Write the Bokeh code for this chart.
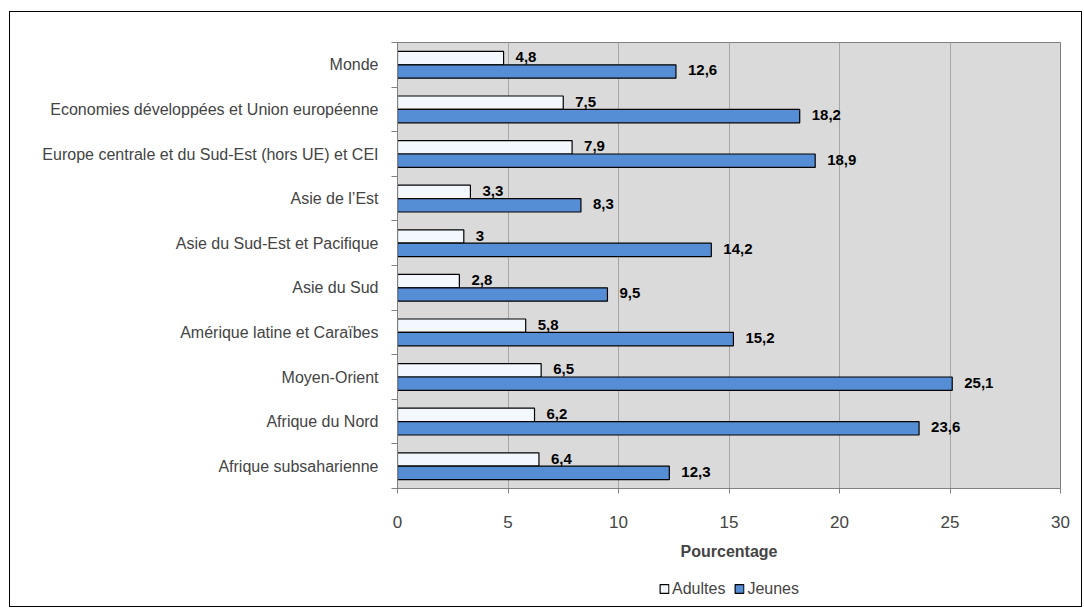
from bokeh.plotting import figure
from bokeh.layouts import column
from bokeh.models import Range1d, FixedTicker, Legend, LegendItem, ColumnDataSource
from bokeh.embed import file_html
from bokeh.resources import INLINE
from bokeh.core.properties import value

categories = [
    "Monde",
    "Economies développées et Union européenne",
    "Europe centrale et du Sud-Est (hors UE) et CEI",
    "Asie de l’Est",
    "Asie du Sud-Est et Pacifique",
    "Asie du Sud",
    "Amérique latine et Caraïbes",
    "Moyen-Orient",
    "Afrique du Nord",
    "Afrique subsaharienne",
]
series = ["Adultes", "Jeunes"]
adultes = [4.8, 7.5, 7.9, 3.3, 3.0, 2.8, 5.8, 6.5, 6.2, 6.4]
jeunes = [12.6, 18.2, 18.9, 8.3, 14.2, 9.5, 15.2, 25.1, 23.6, 12.3]
x_ticks = [0, 5, 10, 15, 20, 25, 30]

FONT = "Liberation Sans"
C_AD = "#F2F8FD"
C_JE = "#558ED5"

def fmt(v):
    s = ("%.1f" % v).rstrip("0").rstrip(".")
    return s.replace(".", ",")

n = len(categories)
centers = [n - 0.5 - i for i in range(n)]
bounds = [float(i) for i in range(n + 1)]

src_a = ColumnDataSource(dict(y=[c + 0.15 for c in centers], x=adultes,
                              lbl=[fmt(v) for v in adultes]))
src_j = ColumnDataSource(dict(y=[c - 0.15 for c in centers], x=jeunes,
                              lbl=[fmt(v) for v in jeunes]))

p = figure(width=1071, height=559, frame_width=663, frame_height=446,
           output_backend="svg", toolbar_location=None,
           x_range=Range1d(0, 30), y_range=Range1d(0, n),
           min_border_left=387, min_border_right=21, min_border_top=30, min_border_bottom=83)
p.background_fill_color = "#DADADA"
p.border_fill_color = "white"
p.outline_line_color = "#808080"

ra = p.hbar(y="y", right="x", left=0, height=0.3, source=src_a,
            fill_color=C_AD, line_color="black", line_width=1.2)
rj = p.hbar(y="y", right="x", left=0, height=0.3, source=src_j,
            fill_color=C_JE, line_color="black", line_width=1.2)

for src in (src_a, src_j):
    p.text(x="x", y="y", text="lbl", source=src, x_offset=12, y_offset=-1,
           text_baseline="middle", text_align="left",
           text_font=value(FONT), text_font_style="bold", text_font_size="15px",
           text_color="black")

# x axis
p.xaxis.ticker = FixedTicker(ticks=x_ticks)
p.xaxis.axis_label = "Pourcentage"
p.xaxis.axis_label_text_font = FONT
p.xaxis.axis_label_text_font_style = "bold"
p.xaxis.axis_label_text_font_size = "16px"
p.xaxis.axis_label_standoff = 12
p.xaxis.major_label_text_font = FONT
p.xaxis.major_label_text_font_size = "17px"
p.xaxis.major_label_standoff = 22
p.xaxis.axis_line_color = "#808080"
p.xaxis.major_tick_line_color = "#808080"
p.xaxis.major_tick_out = 5
p.xaxis.major_tick_in = 0
p.xaxis.minor_tick_line_color = None

# y axis
p.yaxis.ticker = FixedTicker(ticks=centers, minor_ticks=bounds)
p.yaxis.major_label_overrides = {c: cat for c, cat in zip(centers, categories)}
p.yaxis.major_label_text_font = FONT
p.yaxis.major_label_text_font_size = "16px"
p.yaxis.major_label_standoff = 13
p.yaxis.major_tick_line_color = None
p.yaxis.minor_tick_out = 6
p.yaxis.minor_tick_in = 0
p.yaxis.minor_tick_line_color = "#808080"
p.yaxis.axis_line_color = "#808080"

p.xgrid.ticker = FixedTicker(ticks=x_ticks)
p.xgrid.grid_line_color = "#A6A6A6"
p.ygrid.grid_line_color = None

# legend strip below the chart
pl = figure(width=1071, height=35, frame_width=663, frame_height=35,
            output_backend="svg", toolbar_location=None,
            x_range=Range1d(0, 1), y_range=Range1d(0, 1),
            x_axis_type=None, y_axis_type=None,
            min_border_left=379, min_border_right=29, min_border_top=0, min_border_bottom=0)
pl.outline_line_color = None
pl.grid.grid_line_color = None
hidden = dict(x=[-5.0], y=[-5.0])  # swatch sources, kept outside the visible range
la = pl.rect(x="x", y="y", width=1, height=1, source=ColumnDataSource(hidden),
             fill_color=C_AD, line_color="black", line_width=1.2)
lj = pl.rect(x="x", y="y", width=1, height=1, source=ColumnDataSource(hidden),
             fill_color=C_JE, line_color="black", line_width=1.2)
legend = Legend(items=[LegendItem(label=series[0], renderers=[la]),
                       LegendItem(label=series[1], renderers=[lj])],
                orientation="horizontal", location="center",
                label_text_font=FONT, label_text_font_size="16px",
                glyph_width=11, glyph_height=11, spacing=8, label_standoff=3,
                border_line_color=None, background_fill_alpha=0,
                padding=0, margin=0)
pl.add_layout(legend)

layout = column(p, pl, spacing=0, margin=(11, 0, 0, 9),
                styles={"border": "1.5px solid black"})

open("out.html", "w").write(file_html(layout, INLINE))
